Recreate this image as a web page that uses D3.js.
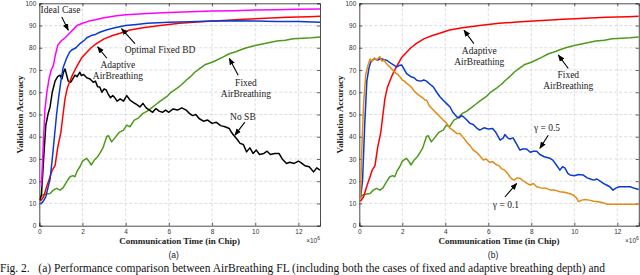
<!DOCTYPE html>
<html>
<head>
<meta charset="utf-8">
<script src="https://cdn.jsdelivr.net/npm/d3@7"></script>
<style>
  html, body { margin: 0; padding: 0; background: #fff; }
  svg { display: block; }
</style>
</head>
<body>
<div id="chart"></div>
<script>
// x in units of 10^6 chips, y = validation accuracy (%)
const xTicks = [0, 2, 4, 6, 8, 10, 12];
const yTicks = [0, 10, 20, 30, 40, 50, 60, 70, 80, 90, 100];

const idealCase = [[0.1,18],[0.2,40],[0.26,52],[0.35,60],[0.45,66],[0.55,70],[0.65,72],[0.75,77],[0.85,81],[1.0,83],[1.2,84.5],[1.4,86.5],[1.6,88.5],[1.75,90],[2.0,91],[2.3,92],[2.6,92.6],[3.0,93.5],[3.5,94.3],[4.0,94.8],[5,95.4],[6,95.9],[7,96.2],[8,96.5],[9,96.7],[10,97],[11,97.1],[12,97.3],[13,97.4]];

const optimalFixedBD = [[0.05,10],[0.15,10.5],[0.3,13],[0.4,17],[0.5,21],[0.6,30],[0.7,40],[0.8,50],[0.9,58],[1.0,65],[1.1,71],[1.25,75],[1.4,78],[1.5,79],[1.7,80],[1.9,82],[2.1,83.5],[2.2,84.5],[2.4,85.5],[2.6,86],[2.8,87],[3.1,88],[3.5,89],[4.0,90],[4.5,90.5],[5,91],[6,91.5],[7,91.7],[8,92],[9,92.2],[10,92],[11,91.8],[12,91.8],[13,91.5]];

const adaptiveAB = [[0.05,11],[0.2,13],[0.34,17.5],[0.5,22],[0.6,25],[0.73,27],[0.85,35],[1.0,42],[1.1,50],[1.19,57],[1.3,62],[1.5,67],[1.7,71],[1.96,75.5],[2.2,78],[2.4,80],[2.66,82],[3.0,84],[3.4,85.5],[3.74,86.5],[4.2,88],[4.8,89],[5.6,90],[6.5,91],[7.5,91.7],[8.5,92.3],[9.5,92.8],[10.5,93.3],[11.5,93.7],[12.5,94],[13,94.2]];

const noSB = [[0.03,11.5],[0.1,14],[0.2,30],[0.3,45],[0.4,50],[0.5,53.5],[0.6,60],[0.73,65],[0.85,67],[0.96,67.7],[1.05,66],[1.12,69],[1.19,70.5],[1.26,68],[1.34,65],[1.45,64.5],[1.55,66],[1.65,67.7],[1.75,67],[1.88,69],[1.95,67.5],[2.05,68],[2.2,66.5],[2.35,66],[2.5,64.5],[2.6,65],[2.7,62.5],[2.8,62.4],[2.9,60],[3.0,61.5],[3.1,61],[3.2,59],[3.3,57.5],[3.4,58.5],[3.5,57.5],[3.6,56],[3.75,57],[3.9,56],[4.05,58.5],[4.2,56.5],[4.35,55.5],[4.5,54.5],[4.66,53.4],[4.8,55],[4.95,53],[5.1,52],[5.25,51],[5.4,52.7],[5.55,51.5],[5.7,51],[5.85,52],[6.0,51],[6.2,52.5],[6.4,52],[6.6,53],[6.8,52],[6.95,50.5],[7.1,49.5],[7.25,50],[7.4,48.2],[7.6,47],[7.8,47.5],[8.0,46],[8.2,46.5],[8.4,45],[8.6,44.5],[8.8,43.7],[8.9,42],[9.0,40.7],[9.15,39],[9.3,37],[9.45,36.5],[9.6,33.2],[9.75,35],[9.9,32.5],[10.05,34],[10.2,32],[10.4,32.5],[10.55,33.5],[10.7,32],[10.9,32.5],[11.1,32.5],[11.25,30],[11.45,28],[11.6,28.5],[11.8,28],[12.0,29],[12.1,28.5],[12.3,27],[12.5,26.5],[12.7,24.2],[12.85,26],[13,25]];

const fixedAB = [[0.05,13],[0.2,14],[0.5,14.5],[0.65,16],[0.8,16.8],[0.96,16],[1.1,17],[1.25,19.5],[1.42,22],[1.55,22.5],[1.65,22],[1.75,24.5],[1.88,26.5],[2.0,29],[2.19,30.3],[2.3,29],[2.4,27.3],[2.55,29.5],[2.7,31],[2.8,32.5],[2.95,35],[3.12,40],[3.2,40.5],[3.35,37.7],[3.5,39.5],[3.7,42],[3.9,43],[4.05,45.2],[4.2,44.5],[4.4,47.5],[4.6,48.5],[4.8,50.5],[5.0,51.5],[5.2,53],[5.4,54.5],[5.6,56],[5.9,58],[6.1,60],[6.4,62],[6.6,63.5],[6.8,65.4],[7.0,67],[7.2,69],[7.44,70.7],[7.7,72.5],[8.0,73.5],[8.2,74.4],[8.5,75.8],[8.8,77.3],[9.1,78.2],[9.3,79],[9.6,80],[10.0,81],[10.5,82],[11.0,83],[11.4,83.4],[11.76,84.1],[12.2,84.3],[12.6,84.5],[13,84.8]];

const gamma05 = [[0.05,12],[0.15,20],[0.25,45],[0.35,65],[0.45,71],[0.55,74],[0.7,75],[0.85,74.5],[1.0,75.2],[1.15,74.6],[1.27,74.4],[1.4,73.5],[1.55,72.5],[1.74,71.4],[1.85,72],[1.97,72.3],[2.05,71],[2.2,68.4],[2.4,67],[2.55,66.5],[2.67,65.4],[2.85,65],[3.0,65.5],[3.13,65],[3.3,63.5],[3.44,62.4],[3.6,60],[3.75,58],[3.9,56.4],[4.05,55],[4.22,53.4],[4.35,51],[4.53,49],[4.65,48.5],[4.75,49.5],[4.84,49],[5.0,47.5],[5.15,46],[5.3,45.5],[5.45,44],[5.6,43],[5.8,44],[6.0,43.5],[6.2,43.7],[6.35,42],[6.55,38.5],[6.7,39.5],[6.77,41],[6.9,39.5],[7.0,39],[7.15,39.5],[7.3,37],[7.47,34],[7.6,34.5],[7.78,34.5],[7.95,33],[8.1,33.5],[8.25,33.5],[8.4,32],[8.6,31],[8.87,30.3],[9.0,29.5],[9.15,27.5],[9.33,25],[9.45,26.5],[9.56,26],[9.7,23.5],[9.8,22.8],[10.0,22.5],[10.2,23],[10.4,22.8],[10.6,21.5],[10.75,21],[10.9,20.5],[11.05,21],[11.2,20],[11.35,19],[11.5,18.3],[11.65,17.5],[11.8,16],[11.95,17],[12.1,17.5],[12.35,17.5],[12.6,17.5],[12.8,16.8],[13,16.3]];

const gamma01 = [[0.05,12],[0.12,35],[0.2,55],[0.3,68],[0.4,72],[0.5,75],[0.6,74],[0.7,75.5],[0.8,74.5],[0.9,75.5],[0.96,76],[1.05,74],[1.15,74.5],[1.25,73],[1.35,72],[1.43,71.4],[1.55,70],[1.7,68.5],[1.8,68],[1.89,67],[2.0,65.5],[2.1,65],[2.2,64],[2.35,63],[2.45,62],[2.55,60.5],[2.67,59.5],[2.8,58.5],[2.95,57.5],[3.05,56.5],[3.13,56.4],[3.25,54],[3.4,52.5],[3.5,51.5],[3.6,50.5],[3.75,49],[3.9,47.5],[4.07,46],[4.2,44],[4.35,43],[4.53,41.5],[4.68,41.5],[4.84,39.6],[5.0,37.5],[5.15,36],[5.3,34],[5.45,33],[5.6,31.5],[5.77,29.5],[5.9,30],[6.05,28.5],[6.2,28.8],[6.35,27.5],[6.5,27],[6.6,25.8],[6.75,25],[6.9,23.5],[7.0,22],[7.1,21],[7.2,20.5],[7.35,21.5],[7.5,21.2],[7.65,20],[7.8,19],[7.94,18.3],[8.1,19],[8.25,17.5],[8.45,17],[8.7,16.8],[8.9,16],[9.1,16],[9.33,15.3],[9.55,15],[9.75,14.5],[9.95,13.8],[10.1,12.5],[10.2,10.8],[10.35,11.5],[10.5,11.8],[10.7,11.5],[10.9,11],[11.1,10.8],[11.35,10.3],[11.5,9.7],[12,9.7],[12.5,9.7],[13,9.7]];

// annotation text: [lines, x, y of first baseline]; arrows: [x1, y1, x2, y2] in data units
const notesA = [
  { lines: ['Ideal Case'], at: [0.98, 95.5], arrow: [1.04, 93.9, 1.34, 87.9] },
  { lines: ['Optimal Fixed BD'], at: [5.59, 77.5], arrow: [4.43, 81.9, 3.81, 88.6] },
  { lines: ['Adaptive', 'AirBreathing'], at: [3.64, 70.8], arrow: [3.13, 75.3, 2.70, 80.4] },
  { lines: ['Fixed', 'AirBreathing'], at: [9.57, 62.7], arrow: [9.21, 67.7, 8.80, 75.2] },
  { lines: ['No SB'], at: [9.43, 47.5], arrow: [9.52, 46.6, 9.06, 40.7] }
];
const notesB = [
  { lines: ['Adaptive', 'AirBreathing'], at: [5.58, 77.1], arrow: [5.33, 81.9, 4.87, 87.9] },
  { lines: ['Fixed', 'AirBreathing'], at: [9.72, 66.3], arrow: [9.72, 70.7, 9.26, 76.7] },
  { lines: ['γ = 0.5'], at: [8.73, 42.5], arrow: [8.79, 40.7, 8.40, 34.8] },
  { lines: ['γ = 0.1'], at: [6.82, 8.0], arrow: [6.77, 12.9, 7.32, 19.0] }
];

const W = 640, H = 275;
const serif = '"Liberation Serif", "Times New Roman", serif';
const sans = '"Liberation Sans", Arial, sans-serif';

const svg = d3.select('#chart').append('svg')
  .attr('width', W).attr('height', H);

const defs = svg.append('defs');
defs.append('marker')
  .attr('id', 'arrowHead')
  .attr('viewBox', '0 0 10 10')
  .attr('refX', 9).attr('refY', 5)
  .attr('markerWidth', 7).attr('markerHeight', 7)
  .attr('markerUnits', 'userSpaceOnUse')
  .attr('orient', 'auto')
  .append('path')
  .attr('d', 'M0,1 L10,5 L0,9 Z')
  .attr('fill', '#000');

function drawPanel(id, left, right, series, notes, label) {
  const top = 3.3, bottom = 225.7;
  const x = d3.scaleLinear().domain([0, 13]).range([left, right]);
  const y = d3.scaleLinear().domain([0, 100]).range([bottom, top]);
  const g = svg.append('g');

  // grid
  g.append('g').selectAll('line').data(xTicks.filter(d => d > 0)).enter().append('line')
    .attr('x1', d => x(d)).attr('x2', d => x(d)).attr('y1', top).attr('y2', bottom)
    .attr('stroke', '#d4d4d4').attr('stroke-width', 0.8).attr('stroke-dasharray', '3,2');
  g.append('g').selectAll('line').data(yTicks.filter(d => d > 0 && d < 100)).enter().append('line')
    .attr('x1', left).attr('x2', right).attr('y1', d => y(d)).attr('y2', d => y(d))
    .attr('stroke', '#d4d4d4').attr('stroke-width', 0.8).attr('stroke-dasharray', '3,2');

  // axes (ticks inside, matlab style)
  const gx = g.append('g').attr('transform', `translate(0,${bottom})`)
    .call(d3.axisBottom(x).tickValues(xTicks).tickSize(-3).tickPadding(4));
  const gy = g.append('g').attr('transform', `translate(${left},0)`)
    .call(d3.axisLeft(y).tickValues(yTicks).tickSize(-3).tickPadding(3));
  const gxt = g.append('g').attr('transform', `translate(0,${top})`)
    .call(d3.axisTop(x).tickValues(xTicks).tickSize(-3).tickFormat(''));
  const gyr = g.append('g').attr('transform', `translate(${right},0)`)
    .call(d3.axisRight(y).tickValues(yTicks).tickSize(-3).tickFormat(''));
  [gx, gy, gxt, gyr].forEach(a => {
    a.select('.domain').attr('stroke', '#3a3a3a').attr('stroke-width', 0.9);
    a.selectAll('.tick line').attr('stroke', '#3a3a3a').attr('stroke-width', 0.8);
    a.selectAll('.tick text').attr('fill', '#333').style('font-family', sans).style('font-size', '6.5px');
  });

  // clip
  defs.append('clipPath').attr('id', id + 'clip').append('rect')
    .attr('x', left).attr('y', top).attr('width', right - left).attr('height', bottom - top);

  const line = d3.line().x(d => x(d[0])).y(d => y(d[1]));
  const lines = g.append('g').attr('clip-path', `url(#${id}clip)`);
  series.forEach(s => {
    lines.append('path').datum(s.data)
      .attr('d', line)
      .attr('fill', 'none')
      .attr('stroke', s.color)
      .attr('stroke-width', 1.5)
      .attr('stroke-linejoin', 'round');
  });

  // annotations
  notes.forEach(n => {
    g.append('line')
      .attr('x1', x(n.arrow[0])).attr('y1', y(n.arrow[1]))
      .attr('x2', x(n.arrow[2])).attr('y2', y(n.arrow[3]))
      .attr('stroke', '#000').attr('stroke-width', 1.1)
      .attr('marker-end', 'url(#arrowHead)');
    const t = g.append('text')
      .attr('x', x(n.at[0])).attr('y', y(n.at[1]))
      .attr('text-anchor', 'middle')
      .style('font-family', serif).style('font-size', '9.5px').attr('fill', '#222');
    n.lines.forEach((l, i) => {
      t.append('tspan').attr('x', x(n.at[0])).attr('dy', i === 0 ? 0 : 11).text(l);
    });
  });

  // axis titles
  g.append('text')
    .attr('x', (left + right) / 2).attr('y', 243.5)
    .attr('text-anchor', 'middle')
    .style('font-family', serif).style('font-size', '9px').style('font-weight', 'bold')
    .attr('fill', '#222')
    .text('Communication Time (in Chip)');
  g.append('text')
    .attr('transform', `translate(${left - 16},${(top + bottom) / 2}) rotate(-90)`)
    .attr('text-anchor', 'middle')
    .style('font-family', serif).style('font-size', '9px').style('font-weight', 'bold')
    .attr('fill', '#222')
    .text('Validation Accuracy');
  const ex = g.append('text')
    .attr('x', right).attr('y', 243)
    .attr('text-anchor', 'end')
    .style('font-family', sans).style('font-size', '6.5px').attr('fill', '#333');
  ex.append('tspan').text('×10');
  ex.append('tspan').attr('dy', -3).style('font-size', '5px').text('6');

  g.append('text')
    .attr('x', (left + right) / 2 - 6).attr('y', 257.5)
    .attr('text-anchor', 'middle')
    .style('font-family', sans).style('font-size', '8.5px').attr('fill', '#222')
    .text(label);
}

drawPanel('pa', 39.3, 320, [
  { data: fixedAB, color: '#4d9a1c' },
  { data: noSB, color: '#000000' },
  { data: adaptiveAB, color: '#ff0000' },
  { data: optimalFixedBD, color: '#0a3ad0' },
  { data: idealCase, color: '#ff00ff' }
], notesA, '(a)');

drawPanel('pb', 359.3, 638.8, [
  { data: fixedAB, color: '#4d9a1c' },
  { data: adaptiveAB, color: '#ff0000' },
  { data: gamma05, color: '#0a3ad0' },
  { data: gamma01, color: '#e38b17' }
], notesB, '(b)');

// figure caption at the bottom edge
svg.append('text')
  .attr('x', 0).attr('y', 272)
  .style('font-family', serif).style('font-size', '11.5px').attr('fill', '#111')
  .attr('xml:space', 'preserve')
  .text('Fig. 2.   (a) Performance comparison between AirBreathing FL (including both the cases of fixed and adaptive breathing depth) and');
</script>
</body>
</html>
